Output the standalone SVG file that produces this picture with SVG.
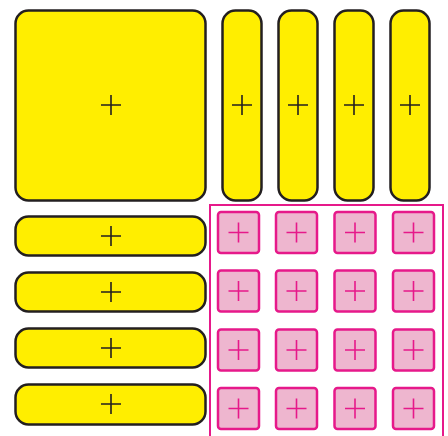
<svg xmlns="http://www.w3.org/2000/svg" width="448" height="436" viewBox="0 0 448 436">
<style>
.y{fill:#FFEE00;stroke:#231F20;stroke-width:2.5}
.p{fill:#EEB6CF;stroke:#E6198A;stroke-width:2.5}
.pk{stroke:#231F20;stroke-width:1.6;fill:none}
.pp{stroke:#E6198A;stroke-width:1.6;fill:none}
.fr{fill:none;stroke:#E6198A;stroke-width:2}
</style>
<defs>
<path id="plus" d="M-10 0H10M0 -10V10"/>
</defs>
<rect width="448" height="436" fill="#fff"/>
<g id="big"><rect class="y" x="15.5" y="10.5" width="190" height="190" rx="13"/><use href="#plus" class="pk" x="111" y="105"/></g>
<g id="col1"><rect class="y" x="222.5" y="10.5" width="39" height="190" rx="13"/><use href="#plus" class="pk" x="242" y="105"/></g>
<g id="col2"><rect class="y" x="278.5" y="10.5" width="39" height="190" rx="13"/><use href="#plus" class="pk" x="298" y="105"/></g>
<g id="col3"><rect class="y" x="334.5" y="10.5" width="39" height="190" rx="13"/><use href="#plus" class="pk" x="354" y="105"/></g>
<g id="col4"><rect class="y" x="390.5" y="10.5" width="39" height="190" rx="13"/><use href="#plus" class="pk" x="410" y="105"/></g>
<g id="row1"><rect class="y" x="15.5" y="216.5" width="190" height="39" rx="13"/><use href="#plus" class="pk" x="111" y="236"/></g>
<g id="row2"><rect class="y" x="15.5" y="272.5" width="190" height="39" rx="13"/><use href="#plus" class="pk" x="111" y="292"/></g>
<g id="row3"><rect class="y" x="15.5" y="328.5" width="190" height="39" rx="13"/><use href="#plus" class="pk" x="111" y="348"/></g>
<g id="row4"><rect class="y" x="15.5" y="384.5" width="190" height="40" rx="13"/><use href="#plus" class="pk" x="111" y="404"/></g>
<g id="frame"><rect class="fr" x="210" y="205" width="233" height="240"/></g>
<g id="grid">
<g id="c11"><rect class="p" x="218" y="212" width="41" height="41" rx="3"/><use href="#plus" class="pp" x="238.5" y="232.5"/></g>
<g id="c12"><rect class="p" x="276" y="212" width="41" height="41" rx="3"/><use href="#plus" class="pp" x="296.5" y="232.5"/></g>
<g id="c13"><rect class="p" x="334.5" y="212" width="41" height="41" rx="3"/><use href="#plus" class="pp" x="355" y="232.5"/></g>
<g id="c14"><rect class="p" x="393" y="212" width="41" height="41" rx="3"/><use href="#plus" class="pp" x="413.5" y="232.5"/></g>
<g id="c21"><rect class="p" x="218" y="270.5" width="41" height="41" rx="3"/><use href="#plus" class="pp" x="238.5" y="291"/></g>
<g id="c22"><rect class="p" x="276" y="270.5" width="41" height="41" rx="3"/><use href="#plus" class="pp" x="296.5" y="291"/></g>
<g id="c23"><rect class="p" x="334.5" y="270.5" width="41" height="41" rx="3"/><use href="#plus" class="pp" x="355" y="291"/></g>
<g id="c24"><rect class="p" x="393" y="270.5" width="41" height="41" rx="3"/><use href="#plus" class="pp" x="413.5" y="291"/></g>
<g id="c31"><rect class="p" x="218" y="329.5" width="41" height="41" rx="3"/><use href="#plus" class="pp" x="238.5" y="350"/></g>
<g id="c32"><rect class="p" x="276" y="329.5" width="41" height="41" rx="3"/><use href="#plus" class="pp" x="296.5" y="350"/></g>
<g id="c33"><rect class="p" x="334.5" y="329.5" width="41" height="41" rx="3"/><use href="#plus" class="pp" x="355" y="350"/></g>
<g id="c34"><rect class="p" x="393" y="329.5" width="41" height="41" rx="3"/><use href="#plus" class="pp" x="413.5" y="350"/></g>
<g id="c41"><rect class="p" x="218" y="388" width="41" height="41" rx="3"/><use href="#plus" class="pp" x="238.5" y="408.5"/></g>
<g id="c42"><rect class="p" x="276" y="388" width="41" height="41" rx="3"/><use href="#plus" class="pp" x="296.5" y="408.5"/></g>
<g id="c43"><rect class="p" x="334.5" y="388" width="41" height="41" rx="3"/><use href="#plus" class="pp" x="355" y="408.5"/></g>
<g id="c44"><rect class="p" x="393" y="388" width="41" height="41" rx="3"/><use href="#plus" class="pp" x="413.5" y="408.5"/></g>
</g>
<g id="connectors"/>
</svg>
